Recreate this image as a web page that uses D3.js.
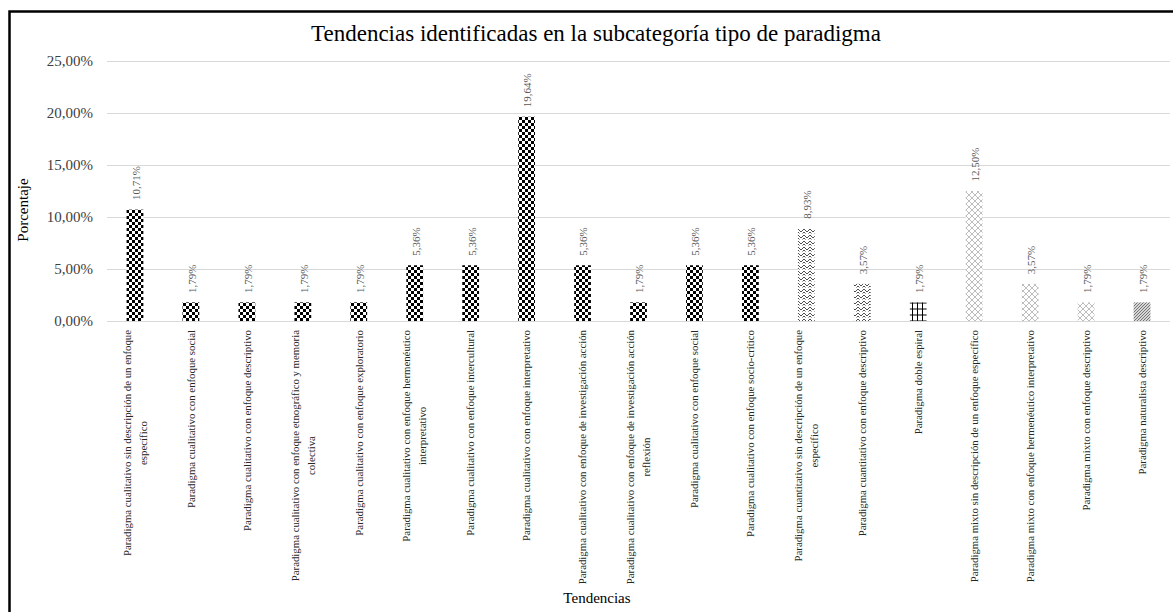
<!DOCTYPE html>
<html>
<meta charset="utf-8">
<head>
<title>Tendencias identificadas en la subcategoría tipo de paradigma</title>
<style>
body { margin: 0; background: #fff; }
svg { display: block; }
svg text { font-family: "Liberation Serif", "DejaVu Serif", serif; }
</style>
<script src="https://cdnjs.cloudflare.com/ajax/libs/d3/7.8.5/d3.min.js"></script>
</head>
<body>
<svg></svg>
<script>

// categories (\n = line break in the axis label)
var categories = [
    "Paradigma cualitativo sin descripción de un enfoque\nespecífico",
    "Paradigma cualitativo con enfoque social",
    "Paradigma cualitativo con enfoque descriptivo",
    "Paradigma cualitativo con enfoque etnográfico y memoria\ncolectiva",
    "Paradigma cualitativo con enfoque exploratorio",
    "Paradigma cualitativo con enfoque hermenéutico\ninterpretativo",
    "Paradigma cualitativo con enfoque intercultural",
    "Paradigma cualitativo con enfoque interpretativo",
    "Paradigma cualitativo con enfoque de investigación acción",
    "Paradigma cualitativo con enfoque de investigación acción\nreflexión",
    "Paradigma cualitativo con enfoque social ",
    "Paradigma cualitativo con enfoque socio-crítico",
    "Paradigma cuantitativo sin descripción de un enfoque\nespecífico",
    "Paradigma cuantitativo con enfoque descriptivo",
    "Paradigma doble espiral",
    "Paradigma mixto sin descripción de un enfoque específico",
    "Paradigma mixto con enfoque hermenéutico interpretativo",
    "Paradigma mixto con enfoque descriptivo",
    "Paradigma naturalista descriptivo"
];
var values = [10.71, 1.79, 1.79, 1.79, 1.79, 5.36, 5.36, 19.64, 5.36, 1.79,
              5.36, 5.36, 8.93, 3.57, 1.79, 12.50, 3.57, 1.79, 1.79];
var yTicks = [0, 5, 10, 15, 20, 25];

var title = "Tendencias identificadas en la subcategoría tipo de paradigma";
var xTitle = "Tendencias";
var yTitle = "Porcentaje";

var width = 1173, height = 612;
var serif = "Liberation Serif";

var svg = d3.select("svg")
    .attr("width", width)
    .attr("height", height);

var loc = d3.formatLocale({decimal: ",", thousands: ".", grouping: [3], currency: ["", "€"]});
var fmt = v => loc.format(".2f")(v) + "%";

var x = d3.scaleBand()
    .domain(categories)
    .range([107, 1170])
    .paddingInner(0.7)
    .paddingOuter(0.35);

var y = d3.scaleLinear()
    .domain([0, 25])
    .range([321, 61]);

// fill patterns
var defs = svg.append("defs");

var checker = defs.append("pattern").attr("id", "checker")
    .attr("patternUnits", "userSpaceOnUse").attr("width", 6).attr("height", 6);
checker.append("rect").attr("width", 6).attr("height", 6).attr("fill", "#fff");
checker.append("rect").attr("width", 3).attr("height", 3).attr("fill", "#000");
checker.append("rect").attr("x", 3).attr("y", 3).attr("width", 3).attr("height", 3).attr("fill", "#000");

var zig = defs.append("pattern").attr("id", "zigzag")
    .attr("patternUnits", "userSpaceOnUse").attr("width", 6).attr("height", 6);
zig.append("rect").attr("width", 6).attr("height", 6).attr("fill", "#fff");
zig.append("path").attr("d", "M0,1 L3,4 L6,1 M0,4 L1.5,5.5 M6,4 L4.5,5.5")
    .attr("fill", "none").attr("stroke", "#222").attr("stroke-width", 0.8);

var grid = defs.append("pattern").attr("id", "grid")
    .attr("patternUnits", "userSpaceOnUse").attr("width", 5).attr("height", 6);
grid.append("rect").attr("width", 5).attr("height", 6).attr("fill", "#fff");
grid.append("path").attr("d", "M2.5,0 V6 M0,3 H5")
    .attr("fill", "none").attr("stroke", "#000").attr("stroke-width", 1);

var dots = defs.append("pattern").attr("id", "dots")
    .attr("patternUnits", "userSpaceOnUse").attr("width", 6).attr("height", 6);
dots.append("rect").attr("width", 6).attr("height", 6).attr("fill", "#fff");
d3.range(6).forEach(i => {
    dots.append("rect").attr("x", i).attr("y", i).attr("width", 1).attr("height", 1).attr("fill", "#bdbdbd");
    dots.append("rect").attr("x", 5 - i).attr("y", i).attr("width", 1).attr("height", 1).attr("fill", "#bdbdbd");
});

var diag = defs.append("pattern").attr("id", "diag")
    .attr("patternUnits", "userSpaceOnUse").attr("width", 3).attr("height", 3);
diag.append("rect").attr("width", 3).attr("height", 3).attr("fill", "#fff");
diag.append("path").attr("d", "M-1,4 L4,-1 M-1,1 L1,-1 M2,4 L4,2")
    .attr("stroke", "#6f6f6f").attr("stroke-width", 1.1);

function patternFor(i) {
    if (i <= 11) return "url(#checker)";
    if (i <= 13) return "url(#zigzag)";
    if (i == 14) return "url(#grid)";
    if (i <= 17) return "url(#dots)";
    return "url(#diag)";
}

// frame
svg.append("rect")
    .attr("x", 9.5).attr("y", 11.5)
    .attr("width", 1200).attr("height", 700)
    .attr("fill", "none").attr("stroke", "#000").attr("stroke-width", 2.5);

// title
svg.append("text")
    .attr("x", 596).attr("y", 41)
    .attr("text-anchor", "middle")
    .attr("font-family", serif)
    .attr("font-size", 23)
    .attr("fill", "#000")
    .text(title);

// y axis + gridlines
var yAxis = svg.append("g")
    .attr("transform", "translate(107,0)")
    .call(d3.axisLeft(y).tickValues(yTicks).tickSize(-(1170 - 107)).tickPadding(14).tickFormat(fmt));
yAxis.attr("font-family", serif);
yAxis.select(".domain").remove();
yAxis.selectAll(".tick line").attr("stroke", "#d9d9d9").attr("stroke-width", 1);
yAxis.selectAll(".tick text")
    .attr("font-size", 15)
    .attr("fill", "#404040");

svg.append("text")
    .attr("transform", "translate(28,210) rotate(-90)")
    .attr("text-anchor", "middle")
    .attr("font-family", serif)
    .attr("font-size", 15)
    .attr("fill", "#000")
    .text(yTitle);

// bars
svg.append("g").selectAll("rect")
    .data(values)
    .enter().append("rect")
    .attr("x", (d, i) => x(categories[i]))
    .attr("y", d => y(d))
    .attr("width", x.bandwidth())
    .attr("height", d => y(0) - y(d))
    .attr("fill", (d, i) => patternFor(i));

// data labels
svg.append("g").selectAll("text")
    .data(values)
    .enter().append("text")
    .attr("transform", (d, i) => "translate(" + (x(categories[i]) + x.bandwidth() / 2 + 1) + "," + (y(d) - 9.5) + ") rotate(-90)")
    .attr("dy", "0.35em")
    .attr("font-family", serif)
    .attr("font-size", 11)
    .attr("fill", "#595959")
    .text(d => fmt(d));

// category labels
var xLab = svg.append("g").selectAll("g")
    .data(categories)
    .enter().append("g")
    .attr("transform", d => "translate(" + (x(d) + x.bandwidth() / 2) + ",330) rotate(-90)");

xLab.each(function(d) {
    var g = d3.select(this);
    var lines = d.trim().split("\n");
    var texts = lines.map((ln, j) => g.append("text")
        .attr("y", (j - (lines.length - 1) / 2) * 16)
        .attr("dy", "0.35em")
        .attr("text-anchor", "middle")
        .attr("font-family", serif)
        .attr("font-size", 10.8)
        .attr("fill", "#262626")
        .text(ln));
    var w = d3.max(texts, t => t.node().getComputedTextLength());
    texts.forEach(t => t.attr("x", -w / 2));
});

svg.append("text")
    .attr("x", 597).attr("y", 603)
    .attr("text-anchor", "middle")
    .attr("font-family", serif)
    .attr("font-size", 15)
    .attr("fill", "#000")
    .text(xTitle);

</script>
</body>
</html>
